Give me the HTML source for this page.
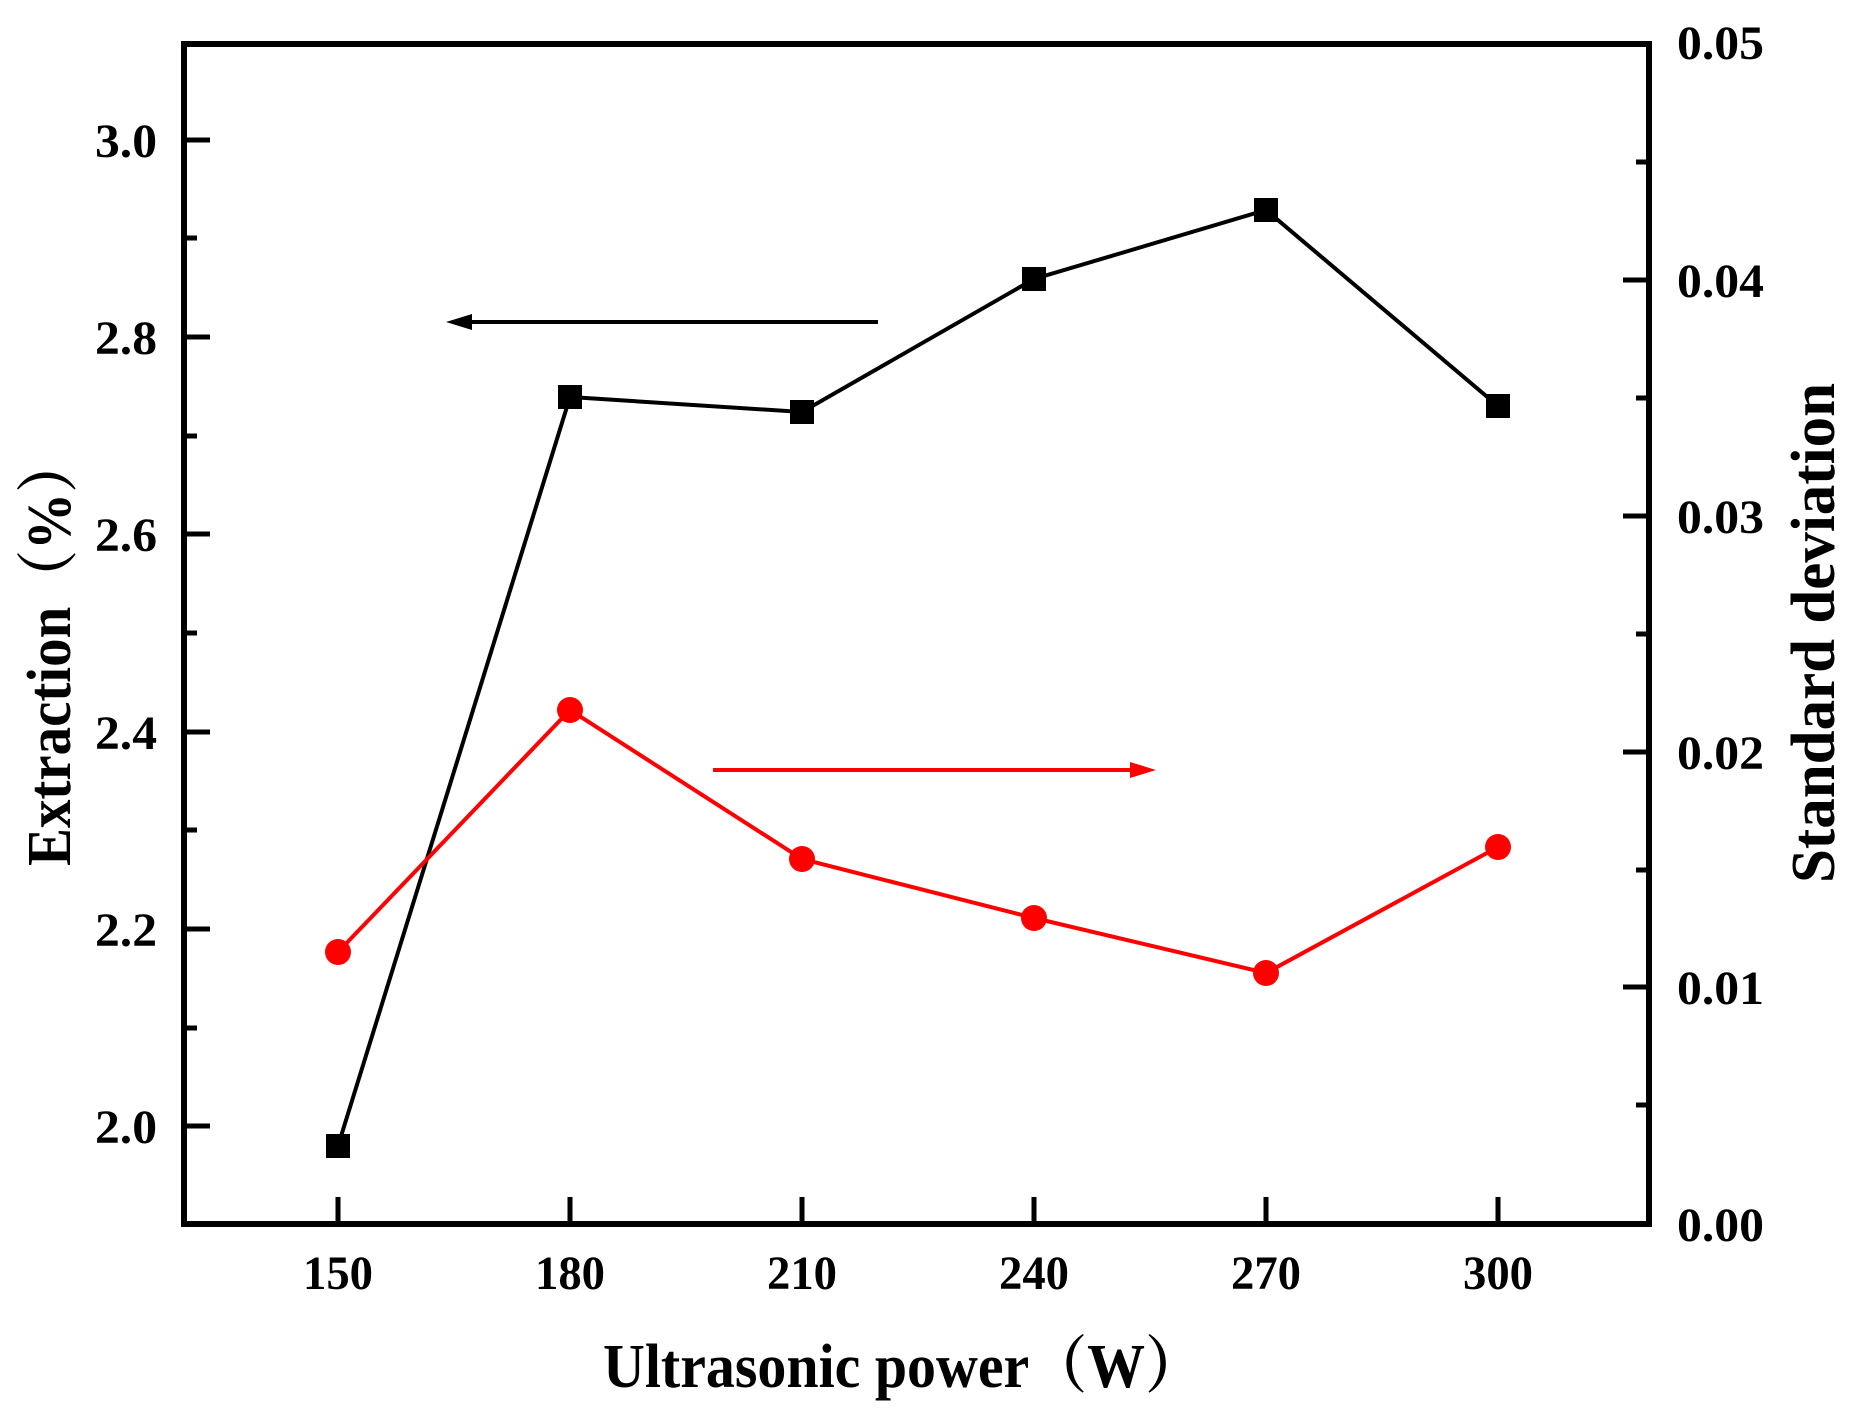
<!DOCTYPE html>
<html><head><meta charset="utf-8"><style>
html,body{margin:0;padding:0;background:#fff;}
svg{display:block;}
text{font-family:"Liberation Serif",serif;font-weight:bold;fill:#000;}
</style></head><body>
<svg width="1861" height="1416" viewBox="0 0 1861 1416" xmlns="http://www.w3.org/2000/svg">
<rect width="1861" height="1416" fill="#fff"/>
<rect x="184" y="44" width="1465" height="1180" fill="none" stroke="#000" stroke-width="6"/>
<g stroke="#000" stroke-width="5">
<line x1="184" y1="1126" x2="210" y2="1126"/>
<line x1="184" y1="929" x2="210" y2="929"/>
<line x1="184" y1="732" x2="210" y2="732"/>
<line x1="184" y1="534" x2="210" y2="534"/>
<line x1="184" y1="337" x2="210" y2="337"/>
<line x1="184" y1="140" x2="210" y2="140"/>
<line x1="184" y1="1028" x2="197" y2="1028"/>
<line x1="184" y1="830" x2="197" y2="830"/>
<line x1="184" y1="633" x2="197" y2="633"/>
<line x1="184" y1="436" x2="197" y2="436"/>
<line x1="184" y1="238" x2="197" y2="238"/>
<line x1="1649" y1="987" x2="1623" y2="987"/>
<line x1="1649" y1="752" x2="1623" y2="752"/>
<line x1="1649" y1="516" x2="1623" y2="516"/>
<line x1="1649" y1="280" x2="1623" y2="280"/>
<line x1="1649" y1="1105" x2="1636" y2="1105"/>
<line x1="1649" y1="870" x2="1636" y2="870"/>
<line x1="1649" y1="634" x2="1636" y2="634"/>
<line x1="1649" y1="398" x2="1636" y2="398"/>
<line x1="1649" y1="162" x2="1636" y2="162"/>
<line x1="338" y1="1224" x2="338" y2="1197"/>
<line x1="570" y1="1224" x2="570" y2="1197"/>
<line x1="802" y1="1224" x2="802" y2="1197"/>
<line x1="1034" y1="1224" x2="1034" y2="1197"/>
<line x1="1266" y1="1224" x2="1266" y2="1197"/>
<line x1="1498" y1="1224" x2="1498" y2="1197"/>
</g>
<polyline points="338,1146 570,397 802,412 1034,279 1266,210 1498,406" fill="none" stroke="#000" stroke-width="4"/>
<g fill="#000">
<rect x="326" y="1134" width="24" height="24"/>
<rect x="558" y="385" width="24" height="24"/>
<rect x="790" y="400" width="24" height="24"/>
<rect x="1022" y="267" width="24" height="24"/>
<rect x="1254" y="198" width="24" height="24"/>
<rect x="1486" y="394" width="24" height="24"/>
</g>
<polyline points="338,952 570,710 802,859 1034,918 1266,973 1498,847" fill="none" stroke="#f00" stroke-width="4"/>
<g fill="#f00">
<circle cx="338" cy="952" r="13"/>
<circle cx="570" cy="710" r="13"/>
<circle cx="802" cy="859" r="13"/>
<circle cx="1034" cy="918" r="13"/>
<circle cx="1266" cy="973" r="13"/>
<circle cx="1498" cy="847" r="13"/>
</g>
<line x1="878" y1="322" x2="465" y2="322" stroke="#000" stroke-width="4"/>
<polygon points="446,322 472,314 472,330" fill="#000"/>
<line x1="713" y1="770" x2="1138" y2="770" stroke="#f00" stroke-width="4"/>
<polygon points="1156,770 1130,762 1130,778" fill="#f00"/>
<g font-size="48" text-anchor="end">
<text x="157" y="1143" textLength="62" lengthAdjust="spacingAndGlyphs">2.0</text>
<text x="157" y="946" textLength="62" lengthAdjust="spacingAndGlyphs">2.2</text>
<text x="157" y="749" textLength="62" lengthAdjust="spacingAndGlyphs">2.4</text>
<text x="157" y="551" textLength="62" lengthAdjust="spacingAndGlyphs">2.6</text>
<text x="157" y="354" textLength="62" lengthAdjust="spacingAndGlyphs">2.8</text>
<text x="157" y="157" textLength="62" lengthAdjust="spacingAndGlyphs">3.0</text>
</g>
<g font-size="48">
<text x="1677" y="1241" textLength="87" lengthAdjust="spacingAndGlyphs">0.00</text>
<text x="1677" y="1004" textLength="87" lengthAdjust="spacingAndGlyphs">0.01</text>
<text x="1677" y="769" textLength="87" lengthAdjust="spacingAndGlyphs">0.02</text>
<text x="1677" y="533" textLength="87" lengthAdjust="spacingAndGlyphs">0.03</text>
<text x="1677" y="297" textLength="87" lengthAdjust="spacingAndGlyphs">0.04</text>
<text x="1677" y="59" textLength="87" lengthAdjust="spacingAndGlyphs">0.05</text>
</g>
<g font-size="48" text-anchor="middle">
<text x="338" y="1289" textLength="70" lengthAdjust="spacingAndGlyphs">150</text>
<text x="570" y="1289" textLength="70" lengthAdjust="spacingAndGlyphs">180</text>
<text x="802" y="1289" textLength="70" lengthAdjust="spacingAndGlyphs">210</text>
<text x="1034" y="1289" textLength="70" lengthAdjust="spacingAndGlyphs">240</text>
<text x="1266" y="1289" textLength="70" lengthAdjust="spacingAndGlyphs">270</text>
<text x="1498" y="1289" textLength="70" lengthAdjust="spacingAndGlyphs">300</text>
</g>
<text x="603" y="1387" font-size="62" textLength="600" lengthAdjust="spacingAndGlyphs" style="font-family:'Liberation Serif','Noto Serif CJK SC',serif">Ultrasonic power（W）</text>
<text transform="translate(70,866) rotate(-90)" x="0" y="0" font-size="62" textLength="430" lengthAdjust="spacingAndGlyphs" style="font-family:'Liberation Serif','Noto Serif CJK SC',serif">Extraction（%）</text>
<text transform="translate(1834,883) rotate(-90)" x="0" y="0" font-size="62" textLength="500" lengthAdjust="spacingAndGlyphs">Standard deviation</text>
</svg>
</body></html>
